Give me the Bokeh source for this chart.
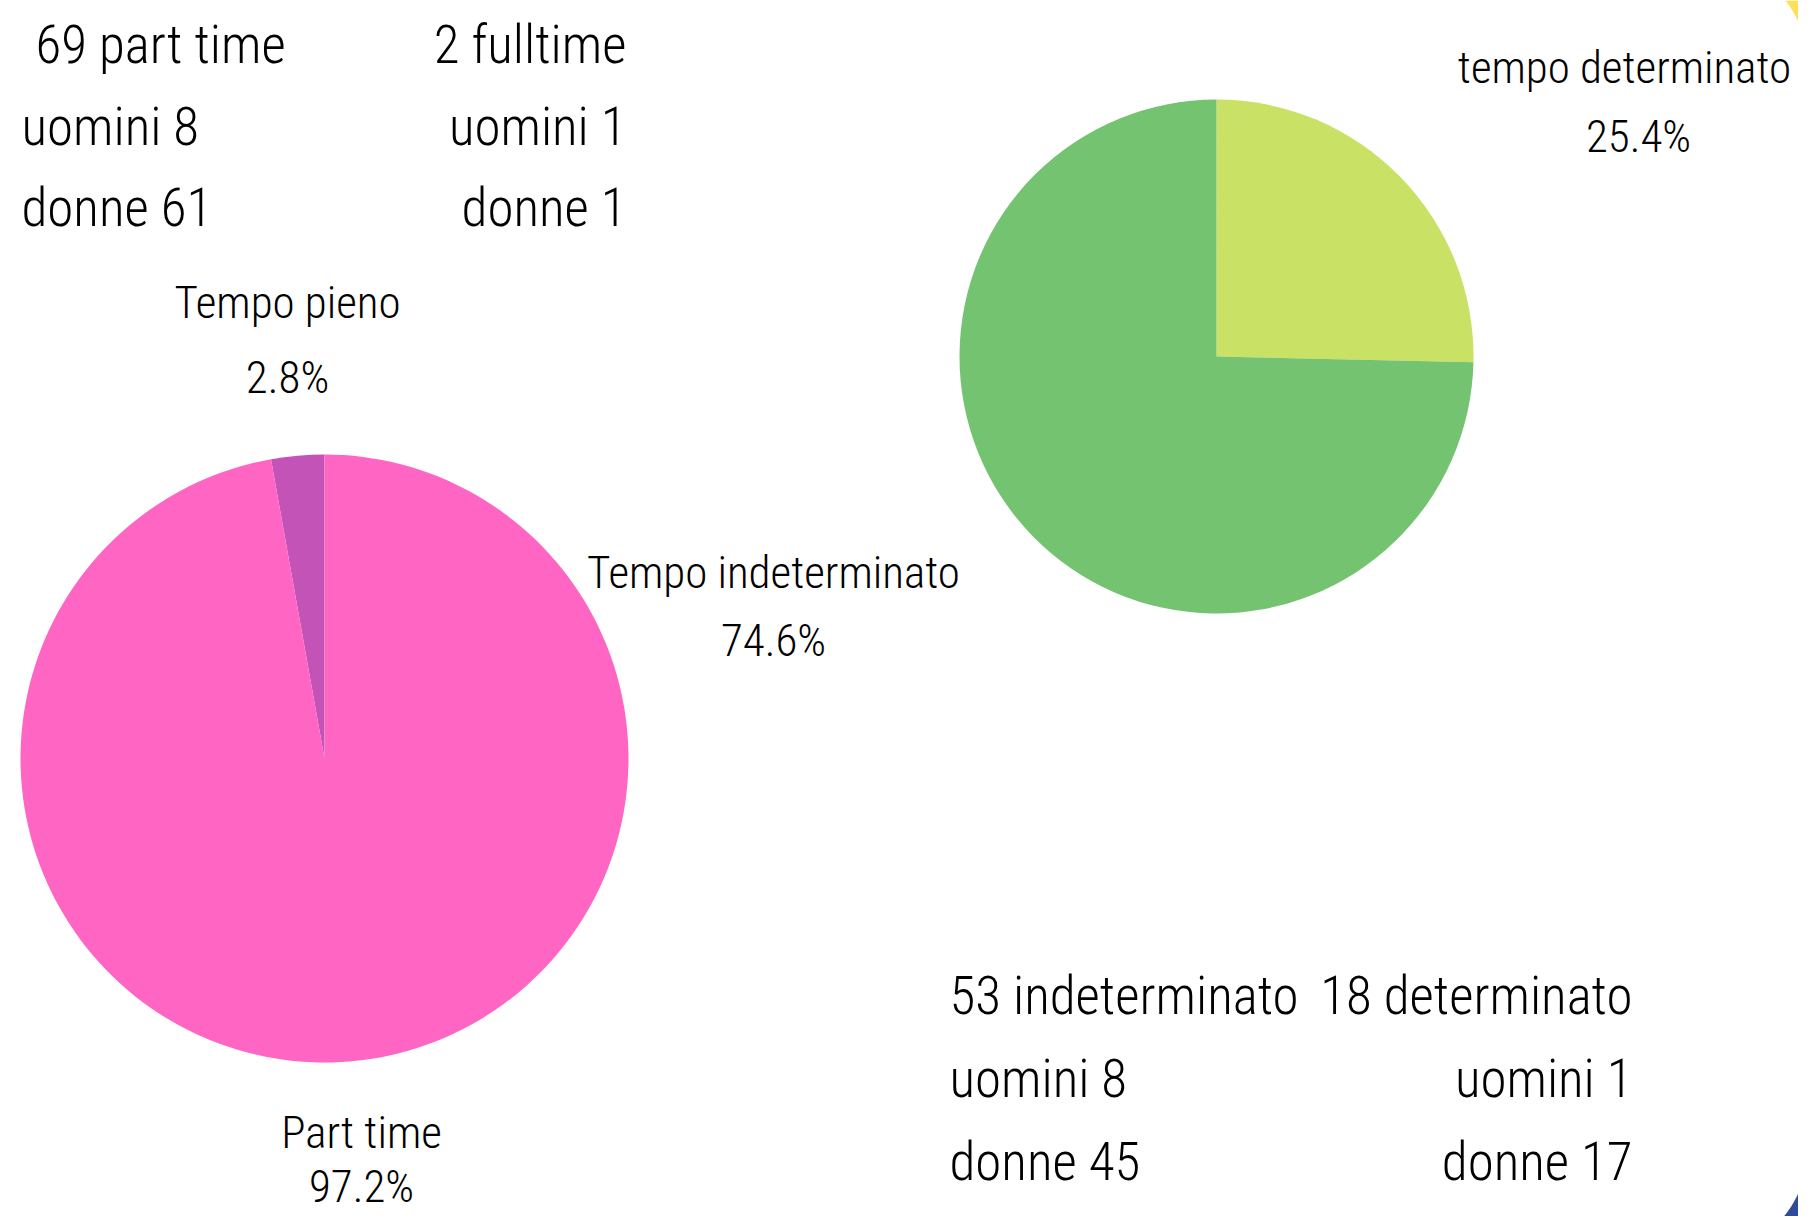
import numpy as np
from bokeh.plotting import figure
from bokeh.models import Range1d
from bokeh.core.properties import value
from bokeh.embed import file_html
from bokeh.resources import INLINE

# ---------------- data ----------------
orario_labels = ["Tempo pieno", "Part time"]
orario_counts = [2, 69]
orario_colors = ["#C453B8", "#FF66C4"]

contratto_labels = ["tempo determinato", "Tempo indeterminato"]
contratto_counts = [18, 53]
contratto_colors = ["#C9E265", "#73C370"]

parttime = {"totale": 69, "uomini": 8, "donne": 61}
fulltime = {"totale": 2, "uomini": 1, "donne": 1}
indeterminato = {"totale": 53, "uomini": 8, "donne": 45}
determinato = {"totale": 18, "uomini": 1, "donne": 17}

# ---------------- layout ----------------
PW, PH = 1798, 1216
FONT = value("Roboto Condensed Light")
BIG = "53px"
LBL = "45px"


def Y(y):
    return PH - y


p = figure(width=PW, height=PH, output_backend="svg", toolbar_location=None,
           x_range=Range1d(0, PW), y_range=Range1d(0, PH),
           x_axis_type=None, y_axis_type=None, min_border=0)
p.grid.visible = False
p.outline_line_color = None
p.background_fill_color = "white"
p.border_fill_color = "white"

# decorative frame corners (card with rounded corners on a yellow / blue background)
R = 104
cx = 1703
cy_top = 64
ys = np.linspace(0, 24, 30)
xs = np.minimum(cx + np.sqrt(np.clip(R**2 - (cy_top - ys) ** 2, 0, None)), PW)
p.patch(list(xs) + [PW, PW], [Y(v) for v in ys] + [Y(24), Y(0)],
        fill_color="#FFDE59", line_color=None)
cy_bot = 1150
ys2 = np.linspace(1190, PH, 30)
xs2 = np.minimum(cx + np.sqrt(np.clip(R**2 - (ys2 - cy_bot) ** 2, 0, None)), PW)
p.patch(list(xs2) + [PW, PW], [Y(v) for v in ys2] + [Y(PH), Y(1190)],
        fill_color="#2F4A9B", line_color=None)


# ---------------- pies ----------------
def pie(counts, colors, cx, cy, r, clockwise):
    tot = float(sum(counts))
    fr = np.array(counts) / tot * 2 * np.pi
    start = np.pi / 2
    starts, ends = [], []
    for f in fr:
        if clockwise:
            starts.append(start - f)
            ends.append(start)
            start -= f
        else:
            starts.append(start)
            ends.append(start + f)
            start += f
    p.wedge(x=[cx] * len(counts), y=[Y(cy)] * len(counts), radius=r, radius_units="screen",
            start_angle=starts, end_angle=ends, fill_color=colors, line_color=None)


pie(orario_counts, orario_colors, 324, 758, 304, clockwise=False)
pie(contratto_counts, contratto_colors, 1216, 356, 257, clockwise=True)


def pct(counts, i):
    return f"{100.0 * counts[i] / sum(counts):.1f}%"


def txt(x, y, s, align="left", size=BIG):
    p.text(x=[x], y=[Y(y)], text=[s], text_align=align, text_baseline="alphabetic",
           text_font=FONT, text_font_size=size, text_color="#000000")


# pie labels
txt(287, 302, orario_labels[0], "center", LBL)
txt(287, 377, pct(orario_counts, 0), "center", LBL)
txt(361, 1132, orario_labels[1], "center", LBL)
txt(361, 1186, pct(orario_counts, 1), "center", LBL)
txt(1624, 67, contratto_labels[0], "center", LBL)
txt(1638, 136, pct(contratto_counts, 0), "center", LBL)
txt(773, 572, contratto_labels[1], "center", LBL)
txt(773, 640, pct(contratto_counts, 1), "center", LBL)

# summary blocks
txt(35, 44, f"{parttime['totale']} part time")
txt(21, 126, f"uomini {parttime['uomini']}")
txt(21, 207, f"donne {parttime['donne']}")
txt(626, 44, f"{fulltime['totale']} fulltime", "right")
txt(626, 126, f"uomini {fulltime['uomini']}", "right")
txt(626, 207, f"donne {fulltime['donne']}", "right")

txt(949, 995, f"{indeterminato['totale']} indeterminato")
txt(949, 1078, f"uomini {indeterminato['uomini']}")
txt(949, 1161, f"donne {indeterminato['donne']}")
txt(1632, 995, f"{determinato['totale']} determinato", "right")
txt(1632, 1078, f"uomini {determinato['uomini']}", "right")
txt(1632, 1161, f"donne {determinato['donne']}", "right")

open("out.html", "w").write(file_html(p, INLINE))
